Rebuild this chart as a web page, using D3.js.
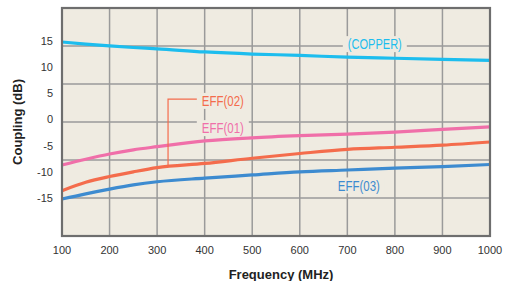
<!DOCTYPE html>
<html><head><meta charset="utf-8">
<script src="https://cdn.jsdelivr.net/npm/d3@7/dist/d3.min.js"></script>
<style>body{margin:0;background:#fff}svg{display:block}</style>
</head><body>
<svg id="c" width="506" height="281"></svg>
<script>
const freq   = [100,150,200,250,300,400,500,600,700,800,900,1000];
const copper = [14.8,14.4,14.05,13.75,13.5,12.9,12.5,12.25,11.9,11.7,11.5,11.3];
const eff01  = [-8.7,-7.6,-6.6,-5.8,-5.2,-4.1,-3.5,-3.1,-2.8,-2.4,-1.9,-1.4];
const eff02  = [-13.6,-12.0,-10.9,-10.0,-9.2,-8.4,-7.4,-6.5,-5.7,-5.3,-4.9,-4.3];
const eff03  = [-15.2,-14.2,-13.3,-12.5,-11.9,-11.2,-10.6,-10.0,-9.65,-9.3,-9.0,-8.6];
const xTicks = [100,200,300,400,500,600,700,800,900,1000];
const yTicks = [15,10,5,0,-5,-10,-15];
const yDomain = [-22.26, 21.3];

const series = [
  {name:"(COPPER)", values:copper, color:"#1dbdee"},
  {name:"EFF(01)", values:eff01, color:"#f06fa9"},
  {name:"EFF(02)", values:eff02, color:"#f46c4c"},
  {name:"EFF(03)", values:eff03, color:"#3d8bd0"}
];

const svg = d3.select("#c");
const L=62, R=490, T=8, B=236;
const x = d3.scaleLinear().domain([100,1000]).range([L,R]);
const y = d3.scaleLinear().domain(yDomain).range([B,T]);
const bg = "#efebe1";

svg.append("rect").attr("x",L).attr("y",T).attr("width",R-L).attr("height",B-T).attr("fill",bg);

// grid
const gridY = d3.range(1,6).map(i => yDomain[0] + (yDomain[1]-yDomain[0])*i/6);
svg.append("g").selectAll("line").data(xTicks.slice(1,-1)).join("line")
  .attr("x1",d=>x(d)).attr("x2",d=>x(d)).attr("y1",T).attr("y2",B)
  .attr("stroke","#9a9a9a").attr("stroke-width",1.5);
svg.append("g").selectAll("line").data(gridY).join("line")
  .attr("x1",L).attr("x2",R).attr("y1",d=>y(d)).attr("y2",d=>y(d))
  .attr("stroke","#9a9a9a").attr("stroke-width",1.5);

// curves
const line = d3.line().curve(d3.curveMonotoneX).x((d,i)=>x(freq[i])).y(d=>y(d));
svg.append("g").selectAll("path").data(series).join("path")
  .attr("d",d=>line(d.values)).attr("fill","none")
  .attr("stroke",d=>d.color).attr("stroke-width",3.2).attr("stroke-linecap","butt");

// leader line for EFF(02)
const cornerF = 323;
const cornerV = d3.scaleLinear().domain(freq).range(eff02)(cornerF);
svg.append("path")
  .attr("d",`M${x(387)},${y(3.9)}H${x(cornerF)}V${y(cornerV)}`)
  .attr("fill","none").attr("stroke","#f46c4c").attr("stroke-width",1.2);

// labels
const labels = [
  {text:"(COPPER)", color:"#1dbdee", f:701, v:14.4, w:54},
  {text:"EFF(02)", color:"#f46c4c", f:394, v:3.55, w:42},
  {text:"EFF(01)", color:"#f06fa9", f:394, v:-1.65, w:42},
  {text:"EFF(03)", color:"#3d8bd0", f:680, v:-12.6, w:42}
];
const lg = svg.append("g");
labels.forEach(l=>{
  const lx = x(l.f), ly = y(l.v);
  lg.append("rect").attr("x",lx-5).attr("y",ly-8).attr("width",l.w+10).attr("height",16).attr("fill",bg);
  lg.append("text").attr("x",lx).attr("y",ly).attr("dy","0.36em")
    .attr("textLength",l.w).attr("lengthAdjust","spacingAndGlyphs")
    .attr("font-family","Liberation Sans, Arial, sans-serif").attr("font-size",14.5)
    .attr("fill",l.color).text(l.text);
});

// frame
svg.append("rect").attr("x",L).attr("y",T).attr("width",R-L).attr("height",B-T)
  .attr("fill","none").attr("stroke","#6e6e6e").attr("stroke-width",2.2);

// tick labels
const tf = "Liberation Sans, Arial, sans-serif";
svg.append("g").selectAll("text").data(xTicks).join("text")
  .attr("x",d=>x(d)).attr("y",250).attr("dy","0.36em").attr("text-anchor","middle")
  .attr("font-family",tf).attr("font-size",11).attr("fill","#333").text(d=>d);
const yLab = d3.scaleLinear().domain([15,-15]).range([41,198]);
svg.append("g").selectAll("text").data(yTicks).join("text")
  .attr("x",53).attr("y",d=>yLab(d)).attr("dy","0.36em").attr("text-anchor","end")
  .attr("font-family",tf).attr("font-size",11).attr("fill","#333").text(d=>String(d));

svg.append("text").attr("x",281).attr("y",274).attr("dy","0.36em").attr("text-anchor","middle")
  .attr("font-family",tf).attr("font-size",13).attr("font-weight","bold").attr("fill","#222")
  .text("Frequency (MHz)");
svg.append("text").attr("transform","translate(17,122) rotate(-90)").attr("dy","0.36em")
  .attr("text-anchor","middle").attr("font-family",tf).attr("font-size",13).attr("font-weight","bold")
  .attr("fill","#222").text("Coupling (dB)");
</script>
</body></html>
